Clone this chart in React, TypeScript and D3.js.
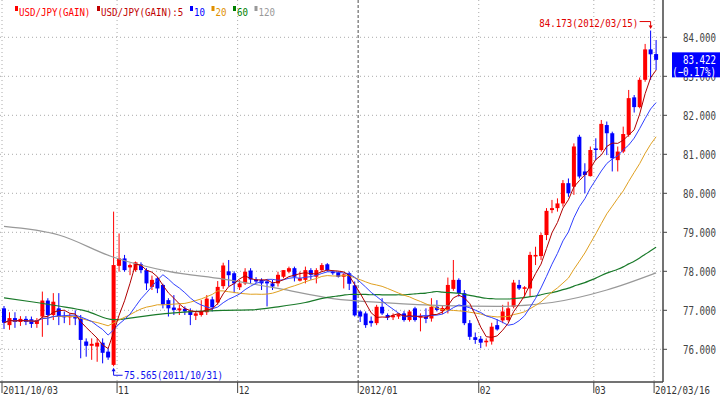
import React from 'react';
import * as d3 from 'd3';

// daily candles, 2011/10/03 .. 2012/03/16 (120 sessions)
const opens = [
  77.05, 76.62, 76.8, 76.7, 76.78, 76.77, 76.65, 76.84, 77.25, 76.88,
  77.05, 76.86, 76.82, 76.84, 76.79, 76.2, 76.09, 76.07, 76.17, 75.94,
  75.6, 78.14, 78.33, 78.1, 78.03, 78.18, 78.03, 77.6, 77.82, 77.65,
  77.26, 77.07, 77.0, 77.04, 76.98, 76.86, 76.88, 76.95, 77.28, 77.2,
  77.62, 78.0, 77.95, 77.59, 77.69, 78.02, 77.79, 77.78, 77.74, 77.69,
  77.69, 77.86, 77.99, 78.08, 77.76, 77.78, 78.03, 77.86, 78.03, 78.18,
  77.99, 77.97, 77.86, 77.95, 77.64, 76.97, 76.92, 76.73, 76.67, 77.09,
  76.88, 76.82, 76.84, 76.92, 76.75, 77.05, 76.81, 76.84, 76.79, 77.09,
  76.98, 77.01, 77.55, 77.78, 77.44, 76.67, 76.31, 76.27, 76.18, 76.2,
  76.62, 76.74, 76.75, 77.09, 77.65, 77.55, 77.56, 78.38, 78.39, 78.93,
  79.57, 79.62, 79.74, 80.26, 80.17, 81.45, 80.56, 80.44, 81.15, 81.11,
  81.75, 81.54, 80.85, 81.07, 81.5, 82.46, 82.21, 82.91, 83.69, 83.57,
];
const highs = [
  77.11, 76.95, 76.95, 76.85, 76.85, 76.84, 76.8, 77.48, 77.31, 77.44,
  77.44, 76.97, 76.92, 77.0, 76.88, 76.28, 76.28, 76.28, 76.28, 76.03,
  79.53, 78.97, 78.42, 78.2, 78.25, 78.23, 78.08, 77.89, 77.86, 77.68,
  77.31, 77.39, 77.14, 77.1, 77.05, 76.97, 77.26, 77.39, 77.35, 77.75,
  78.22, 78.29, 78.0, 77.78, 78.08, 78.08, 77.85, 77.82, 77.78, 77.78,
  77.99, 78.03, 78.12, 78.12, 77.99, 78.12, 78.08, 78.08, 78.21, 78.21,
  78.03, 78.0, 77.95, 77.99, 77.74, 77.0, 76.97, 76.84, 77.14, 77.31,
  76.92, 76.92, 76.9, 76.98, 77.01, 77.09, 76.92, 77.05, 77.31, 77.26,
  77.12, 77.84, 78.29, 77.82, 77.52, 76.75, 76.43, 76.34, 76.28, 76.68,
  76.77, 77.14, 77.22, 77.78, 77.78, 77.62, 78.5, 78.63, 78.99, 79.62,
  79.83, 79.87, 80.34, 80.38, 81.28, 81.5, 80.77, 81.2, 81.41, 81.88,
  81.84, 81.58, 81.2, 81.71, 82.65, 82.52, 82.97, 83.83, 84.173, 83.93,
];
const lows = [
  76.52, 76.5, 76.55, 76.6, 76.62, 76.55, 76.55, 76.32, 76.62, 76.75,
  76.62, 76.67, 76.62, 76.62, 75.77, 75.81, 75.73, 75.68, 75.64, 75.73,
  75.565, 77.99, 77.99, 77.9, 77.99, 77.95, 77.52, 77.52, 77.44, 77.05,
  76.84, 76.88, 76.88, 76.88, 76.62, 76.75, 76.84, 76.88, 76.97, 77.14,
  77.55, 77.61, 77.44, 77.52, 77.65, 77.69, 77.7, 77.52, 77.1, 77.52,
  77.61, 77.82, 77.95, 77.74, 77.74, 77.69, 77.78, 77.69, 77.99, 77.99,
  77.91, 77.84, 77.56, 77.52, 76.84, 76.7, 76.55, 76.58, 76.62, 76.88,
  76.75, 76.75, 76.78, 76.71, 76.71, 76.71, 76.46, 76.67, 76.71, 76.97,
  76.9, 76.92, 77.5, 77.35, 76.62, 76.24, 76.14, 76.03, 76.07, 76.12,
  76.48, 76.67, 76.71, 77.05, 77.52, 77.35, 77.35, 78.16, 78.29, 78.8,
  79.49, 79.53, 79.66, 79.91, 79.96, 80.38, 80.0, 80.43, 80.85, 81.07,
  80.98, 80.56, 80.56, 81.03, 81.45, 82.07, 82.18, 82.86, 82.91, 83.16,
];
const closes = [
  76.68, 76.8, 76.7, 76.78, 76.7, 76.65, 76.75, 77.25, 76.88, 77.22,
  76.84, 76.82, 76.86, 76.79, 76.24, 76.09, 76.14, 76.17, 75.91, 75.79,
  78.16, 78.33, 78.03, 78.16, 78.23, 78.03, 77.69, 77.78, 77.56, 77.15,
  77.05, 77.01, 77.05, 76.97, 76.88, 76.92, 76.98, 77.3, 77.08, 77.6,
  78.15, 77.9, 77.69, 77.69, 77.99, 77.79, 77.74, 77.69, 77.69, 77.61,
  77.91, 78.03, 78.08, 77.86, 77.82, 78.03, 77.91, 78.03, 78.16, 78.03,
  77.95, 77.86, 77.92, 77.68, 76.87, 76.84, 76.62, 76.67, 77.09, 76.92,
  76.81, 76.87, 76.9, 76.75, 76.97, 76.75, 76.84, 76.78, 77.09, 77.01,
  77.06, 77.65, 77.78, 77.44, 76.67, 76.32, 76.24, 76.17, 76.22, 76.58,
  76.51, 76.97, 77.05, 77.71, 77.56, 77.59, 78.42, 78.42, 78.93, 79.55,
  79.62, 79.74, 80.26, 80.0, 81.2, 80.43, 80.47, 81.11, 81.11, 81.78,
  81.54, 80.9, 81.07, 81.52, 82.44, 82.21, 82.91, 83.69, 83.564, 83.422,
];

const tickIndex = [0, 21, 43, 65, 87, 108, 119];
const tickLabels = ['2011/10/03', '11', '12', '2012/01', '02', '03', '2012/03/16'];
const priceTicks = [76, 77, 78, 79, 80, 81, 82, 83, 84];

// long averages (history before 10/03 is not in the data)
const ma60LeadIndex = [0, 5, 10, 15, 20, 25, 30, 35, 40, 45, 50, 55];
const ma60Lead = [77.32, 77.22, 77.11, 76.98, 76.76, 76.84, 76.92, 76.97, 77.0, 77.01, 77.09, 77.2];
const ma120Index = [0, 10, 20, 30, 40, 50, 60, 70, 80, 90, 100, 110, 119];
const ma120Read = [79.15, 78.93, 78.36, 78.0, 77.8, 77.56, 77.3, 77.19, 77.12, 77.1, 77.2, 77.52, 77.96];

const legendNames = ['USD/JPY(GAIN)', 'USD/JPY(GAIN):5', '10', '20', '60', '120'];
const legendColors = ['#ff0000', '#c00000', '#0000ff', '#e09000', '#008000', '#999999'];
const highDate = '2012/03/15';
const lowDate = '2011/10/31';

const W = 720;
const H = 398;
const CHAR = 5.5;

function Txt({ x, y, size = 11, sx = 0.83, anchor = 'start', fill = '#333', children }: any) {
  return (
    <text
      transform={`translate(${x},${y}) scale(${sx},1)`}
      textAnchor={anchor}
      fontFamily="'DejaVu Sans Mono', monospace"
      fontSize={size}
      fill={fill}
    >
      {children}
    </text>
  );
}

function sma(n: number) {
  return closes.map((_, i) => d3.mean(closes.slice(Math.max(0, i - n + 1), i + 1)) as number);
}

export default function App() {
  const x = d3.scaleLinear().domain([0, 119]).range([4, 656.1]);
  const y = d3.scaleLinear().domain([76, 84]).range([349.3, 37.3]);
  const plotRight = 663;
  const plotBottom = 382;

  const line = d3
    .line<[number, number]>()
    .x((d) => x(d[0]))
    .y((d) => y(d[1]));
  const smooth = d3
    .line<[number, number]>()
    .x((d) => x(d[0]))
    .y((d) => y(d[1]))
    .curve(d3.curveMonotoneX);

  const ma5 = sma(5).map((v, i) => [i, v] as [number, number]);
  const ma10 = sma(10).map((v, i) => [i, v] as [number, number]);
  const ma20 = sma(20).map((v, i) => [i, v] as [number, number]);
  const ma60full = sma(60);
  const ma60: [number, number][] = [
    ...ma60LeadIndex.map((i, k) => [i, ma60Lead[k]] as [number, number]),
    ...d3.range(59, 120).map((i) => [i, ma60full[i]] as [number, number]),
  ];
  const ma120 = ma120Index.map((i, k) => [i, ma120Read[k]] as [number, number]);

  const hiIdx = d3.maxIndex(highs);
  const loIdx = d3.minIndex(lows);
  const last = closes[closes.length - 1];
  const prev = closes[closes.length - 2];
  const pct = ((last - prev) / prev) * 100;
  const f3 = d3.format('.3f');

  // legend layout
  let lx = 15;
  const legend = legendNames.map((name, k) => {
    const item = { x: lx, name, color: legendColors[k] };
    lx += 4 + name.length * CHAR + 6.5;
    return item;
  });

  const xh = x(hiIdx);
  const yh = y(highs[hiIdx]);
  const xl = x(loIdx);
  const yl = y(lows[loIdx]);
  const yLast = y(last);

  return (
    <svg width={W} height={H} style={{ position: 'absolute', left: 0, top: 0, background: '#fff' }}>
      {/* grid */}
      {priceTicks.map((t) => (
        <line key={'h' + t} x1={0} x2={plotRight} y1={y(t)} y2={y(t)} stroke="#aaa" strokeDasharray="1,3" />
      ))}
      {tickIndex.map((t, k) => (
        <line
          key={'v' + t}
          x1={x(t) - 2}
          x2={x(t) - 2}
          y1={0}
          y2={plotBottom}
          stroke={tickLabels[k] === '2012/01' ? '#888' : '#aaa'}
          strokeWidth={tickLabels[k] === '2012/01' ? 1.5 : 1}
          strokeDasharray={tickLabels[k] === '2012/01' ? '3,2' : '1,3'}
        />
      ))}

      {/* candles */}
      {closes.map((c, i) => {
        const o = opens[i];
        const up = c >= o;
        const col = up ? '#ff0000' : '#0000ff';
        const top = y(Math.max(o, c));
        const bot = y(Math.min(o, c));
        return (
          <g key={i}>
            <line x1={x(i)} x2={x(i)} y1={y(highs[i])} y2={y(lows[i])} stroke={col} />
            <rect x={x(i) - 2} y={top} width={4} height={Math.max(1, bot - top)} fill={col} />
          </g>
        );
      })}

      {/* moving averages */}
      <path d={smooth(ma120) || ''} fill="none" stroke="#999" strokeWidth={1.2} />
      <path d={smooth(ma60) || ''} fill="none" stroke="#1a7a2a" strokeWidth={1.2} />
      <path d={line(ma20) || ''} fill="none" stroke="#e0a020" strokeWidth={1} />
      <path d={line(ma10) || ''} fill="none" stroke="#3040ff" strokeWidth={1} />
      <path d={line(ma5) || ''} fill="none" stroke="#b00000" strokeWidth={1} />

      {/* frame */}
      <line x1={plotRight} x2={plotRight} y1={0} y2={plotBottom} stroke="#444" strokeWidth={1.5} />
      <line x1={0} x2={plotRight} y1={plotBottom} y2={plotBottom} stroke="#444" strokeWidth={1.5} />

      {/* right axis */}
      {priceTicks.map((t) => (
        <g key={'r' + t}>
          <line x1={plotRight} x2={plotRight + 4} y1={y(t)} y2={y(t)} stroke="#444" />
          <Txt x={716} y={y(t) + 4.5} size={12} sx={0.76} anchor="end" fill="#444">
            {f3(t)}
          </Txt>
        </g>
      ))}

      {/* bottom axis */}
      {tickIndex.map((t, k) => (
        <g key={'b' + t}>
          <line x1={x(t) - 2} x2={x(t) - 2} y1={plotBottom} y2={plotBottom + 11} stroke="#444" />
          <Txt x={x(t) - 1} y={393.5} fill="#333">
            {tickLabels[k]}
          </Txt>
        </g>
      ))}

      {/* legend */}
      {legend.map((it) => (
        <g key={it.name}>
          <rect x={it.x} y={6} width={3} height={5} fill={it.color} />
          <Txt x={it.x + 4} y={15.5} fill={it.color}>
            {it.name}
          </Txt>
        </g>
      ))}

      {/* high marker */}
      <path d={`M${xh - 11},${yh - 9}H${xh}V${yh - 3}`} fill="none" stroke="#e00000" />
      <path d={`M${xh - 2},${yh - 5}L${xh + 2},${yh - 5}L${xh},${yh - 1.5}Z`} fill="#e00000" />
      <Txt x={xh - 12.5} y={yh - 4} anchor="end" fill="#e00000">
        {`${f3(highs[hiIdx])}(${highDate})`}
      </Txt>

      {/* low marker */}
      <path d={`M${xl},${yl + 3}V${yl + 9}H${xl + 9}`} fill="none" stroke="#1010ee" />
      <path d={`M${xl - 2},${yl + 5}L${xl + 2},${yl + 5}L${xl},${yl + 1.5}Z`} fill="#1010ee" />
      <Txt x={xl + 10.5} y={yl + 13} fill="#1010ee">
        {`${f3(lows[loIdx])}(${lowDate})`}
      </Txt>

      {/* last price tag */}
      <rect x={672} y={yLast - 7.5} width={48} height={25} fill="#0000ff" />
      <Txt x={716} y={yLast + 4.5} size={12} sx={0.76} anchor="end" fill="#fff">
        {f3(last)}
      </Txt>
      <Txt x={716} y={yLast + 16} size={12} sx={0.76} anchor="end" fill="#fff">
        {`(${d3.format('.2f')(pct)}%)`}
      </Txt>
    </svg>
  );
}
